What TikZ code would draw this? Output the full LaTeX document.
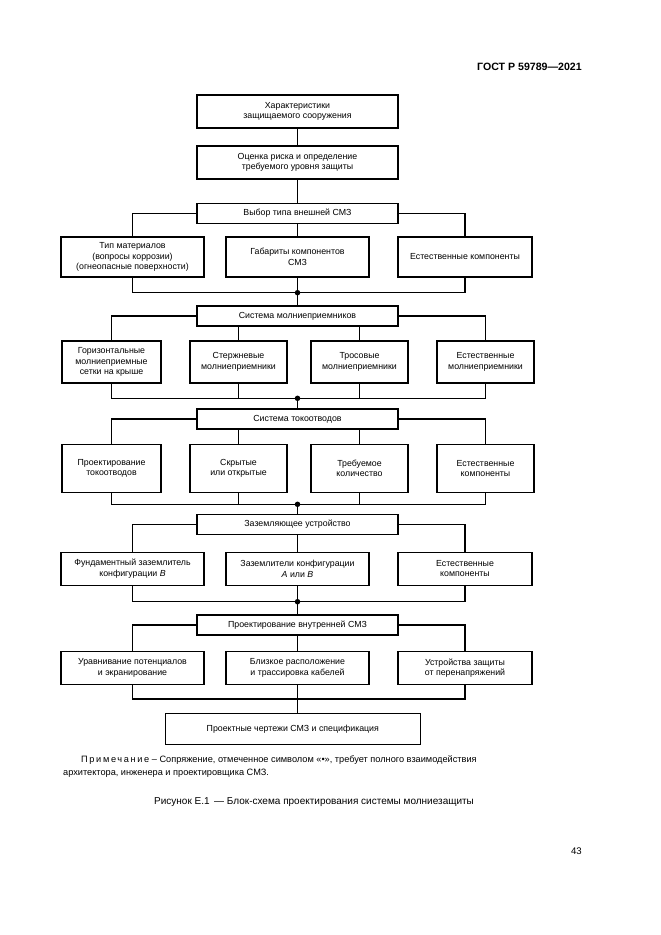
\documentclass[tikz,border=0pt]{standalone}
\usepackage{fontspec}
\setmainfont{Liberation Sans}
\begin{document}
\begin{tikzpicture}[x=1pt,y=-1pt,
  box/.style={draw, line width=1.1pt, align=center, inner sep=0pt,
    font=\fontsize{8.8}{10.5}\selectfont},
  ln/.style={line width=1.1pt},
  jdot/.style={circle, fill=black, inner sep=0pt, minimum size=5.5pt},
  txt/.style={inner sep=0pt, font=\fontsize{9.2}{11}\selectfont}]
\useasboundingbox (0,0) rectangle (661,935);
\fill[white] (0,0) rectangle (661,935);

% header and page number
\node[inner sep=0pt, anchor=east, font=\fontsize{10.6}{12}\selectfont\bfseries] (hdr) at (582,67) {ГОСТ Р 59789—2021};
\node[inner sep=0pt, anchor=east, font=\fontsize{9.6}{11}\selectfont] (pg) at (582,851) {43};

% top chain
\node[box, minimum width=201pt, minimum height=33pt] (b1) at (297.5,111.5) {Характеристики\\защищаемого сооружения};
\node[box, minimum width=201pt, minimum height=33pt] (b2) at (297.5,162.5) {Оценка риска и определение\\требуемого уровня защиты};
\node[box, minimum width=201pt, minimum height=20pt] (b3) at (297.5,213.5) {Выбор типа внешней СМЗ};

% row 1
\node[box, minimum width=143pt, minimum height=40pt] (r1a) at (132.5,257) {Тип материалов\\(вопросы коррозии)\\(огнеопасные поверхности)};
\node[box, minimum width=143pt, minimum height=40pt] (r1b) at (297.5,257) {Габариты компонентов\\СМЗ};
\node[box, minimum width=134pt, minimum height=40pt] (r1c) at (465,257) {Естественные компоненты};
\coordinate (bus1) at (297.5,292.7);

\node[box, minimum width=201pt, minimum height=20pt] (b4) at (297.5,316) {Система молниеприемников};

% row 2
\node[box, minimum width=99pt, minimum height=42pt] (r2a) at (111.5,362) {Горизонтальные\\молниеприемные\\сетки на крыше};
\node[box, minimum width=97pt, minimum height=42pt] (r2b) at (238.5,362) {Стержневые\\молниеприемники};
\node[box, minimum width=97pt, minimum height=42pt] (r2c) at (359.5,362) {Тросовые\\молниеприемники};
\node[box, minimum width=97pt, minimum height=42pt] (r2d) at (485.5,362) {Естественные\\молниеприемники};
\coordinate (bus2) at (297.5,398.3);

\node[box, minimum width=201pt, minimum height=20pt] (b5) at (297.5,419) {Система токоотводов};

% row 3
\node[box, minimum width=99pt, minimum height=48pt] (r3a) at (111.5,468.3) {Проектирование\\токоотводов};
\node[box, minimum width=97pt, minimum height=48pt] (r3b) at (238.5,468.3) {Скрытые\\или открытые};
\node[box, minimum width=97pt, minimum height=48pt] (r3c) at (359.5,468.3) {Требуемое\\количество};
\node[box, minimum width=97pt, minimum height=48pt] (r3d) at (485.5,468.3) {Естественные\\компоненты};
\coordinate (bus3) at (297.5,504.3);

\node[box, minimum width=201pt, minimum height=20pt] (b6) at (297.5,524.5) {Заземляющее устройство};

% row 4
\node[box, minimum width=143pt, minimum height=33pt] (r4a) at (132.5,568.7) {Фундаментный заземлитель\\конфигурации \textit{B}};
\node[box, minimum width=143pt, minimum height=33pt] (r4b) at (297.5,568.7) {Заземлители конфигурации\\\textit{A} или \textit{B}};
\node[box, minimum width=134pt, minimum height=33pt] (r4c) at (465,568.7) {Естественные\\компоненты};
\coordinate (bus4) at (297.5,601.7);

\node[box, minimum width=201pt, minimum height=20pt] (b7) at (297.5,625) {Проектирование внутренней СМЗ};

% row 5
\node[box, minimum width=143pt, minimum height=32.5pt] (r5a) at (132.5,668) {Уравнивание потенциалов\\и экранирование};
\node[box, minimum width=143pt, minimum height=32.5pt] (r5b) at (297.5,668) {Близкое расположение\\и трассировка кабелей};
\node[box, minimum width=134pt, minimum height=32.5pt] (r5c) at (465,668) {Устройства защиты\\от перенапряжений};
\coordinate (bus5) at (297.5,699);

\node[box, minimum width=255pt, minimum height=31pt] (b8) at (292.8,729.2) {Проектные чертежи СМЗ и спецификация};

% connectors
\draw[ln] (b1.south) -- (b2.north);
\draw[ln] (b2.south) -- (b3.north);
\draw[ln] (b3.west) -| (r1a.north);
\draw[ln] (b3.east) -| (r1c.north);
\draw[ln] (b3.south) -- (r1b.north);
\draw[ln] (r1a.south) |- (bus1) -| (r1c.south);
\draw[ln] (r1b.south) -- (bus1) -- (b4.north);

\draw[ln] (b4.west) -| (r2a.north);
\draw[ln] (b4.east) -| (r2d.north);
\draw[ln] (r2b.north) -- (r2b.north |- b4.south);
\draw[ln] (r2c.north) -- (r2c.north |- b4.south);
\draw[ln] (r2a.south) |- (bus2) -| (r2d.south);
\draw[ln] (r2b.south) -- (r2b.south |- bus2);
\draw[ln] (r2c.south) -- (r2c.south |- bus2);
\draw[ln] (bus2) -- (b5.north);

\draw[ln] (b5.west) -| (r3a.north);
\draw[ln] (b5.east) -| (r3d.north);
\draw[ln] (r3b.north) -- (r3b.north |- b5.south);
\draw[ln] (r3c.north) -- (r3c.north |- b5.south);
\draw[ln] (r3a.south) |- (bus3) -| (r3d.south);
\draw[ln] (r3b.south) -- (r3b.south |- bus3);
\draw[ln] (r3c.south) -- (r3c.south |- bus3);
\draw[ln] (bus3) -- (b6.north);

\draw[ln] (b6.west) -| (r4a.north);
\draw[ln] (b6.east) -| (r4c.north);
\draw[ln] (b6.south) -- (r4b.north);
\draw[ln] (r4a.south) |- (bus4) -| (r4c.south);
\draw[ln] (r4b.south) -- (bus4) -- (b7.north);

\draw[ln] (b7.west) -| (r5a.north);
\draw[ln] (b7.east) -| (r5c.north);
\draw[ln] (b7.south) -- (r5b.north);
\draw[ln] (r5a.south) |- (bus5) -| (r5c.south);
\draw[ln] (r5b.south) -- (bus5) -- (bus5 |- b8.north);

\node[jdot] (d1) at (bus1) {};
\node[jdot] (d2) at (bus2) {};
\node[jdot] (d3) at (bus3) {};
\node[jdot] (d4) at (bus4) {};

% note and caption
\node[txt, anchor=west] (n1) at (81,760) {{\addfontfeature{LetterSpace=18}Примечание} – Сопряжение, отмеченное символом «•», требует полного взаимодействия};
\node[txt, anchor=west] (n2) at (63,773) {архитектора, инженера и проектировщика СМЗ.};
\node[inner sep=0pt, anchor=west, font=\fontsize{10}{12}\selectfont] (cap) at (154,802) {Рисунок Е.1 \,— Блок-схема проектирования системы молниезащиты};
\end{tikzpicture}
\end{document}
